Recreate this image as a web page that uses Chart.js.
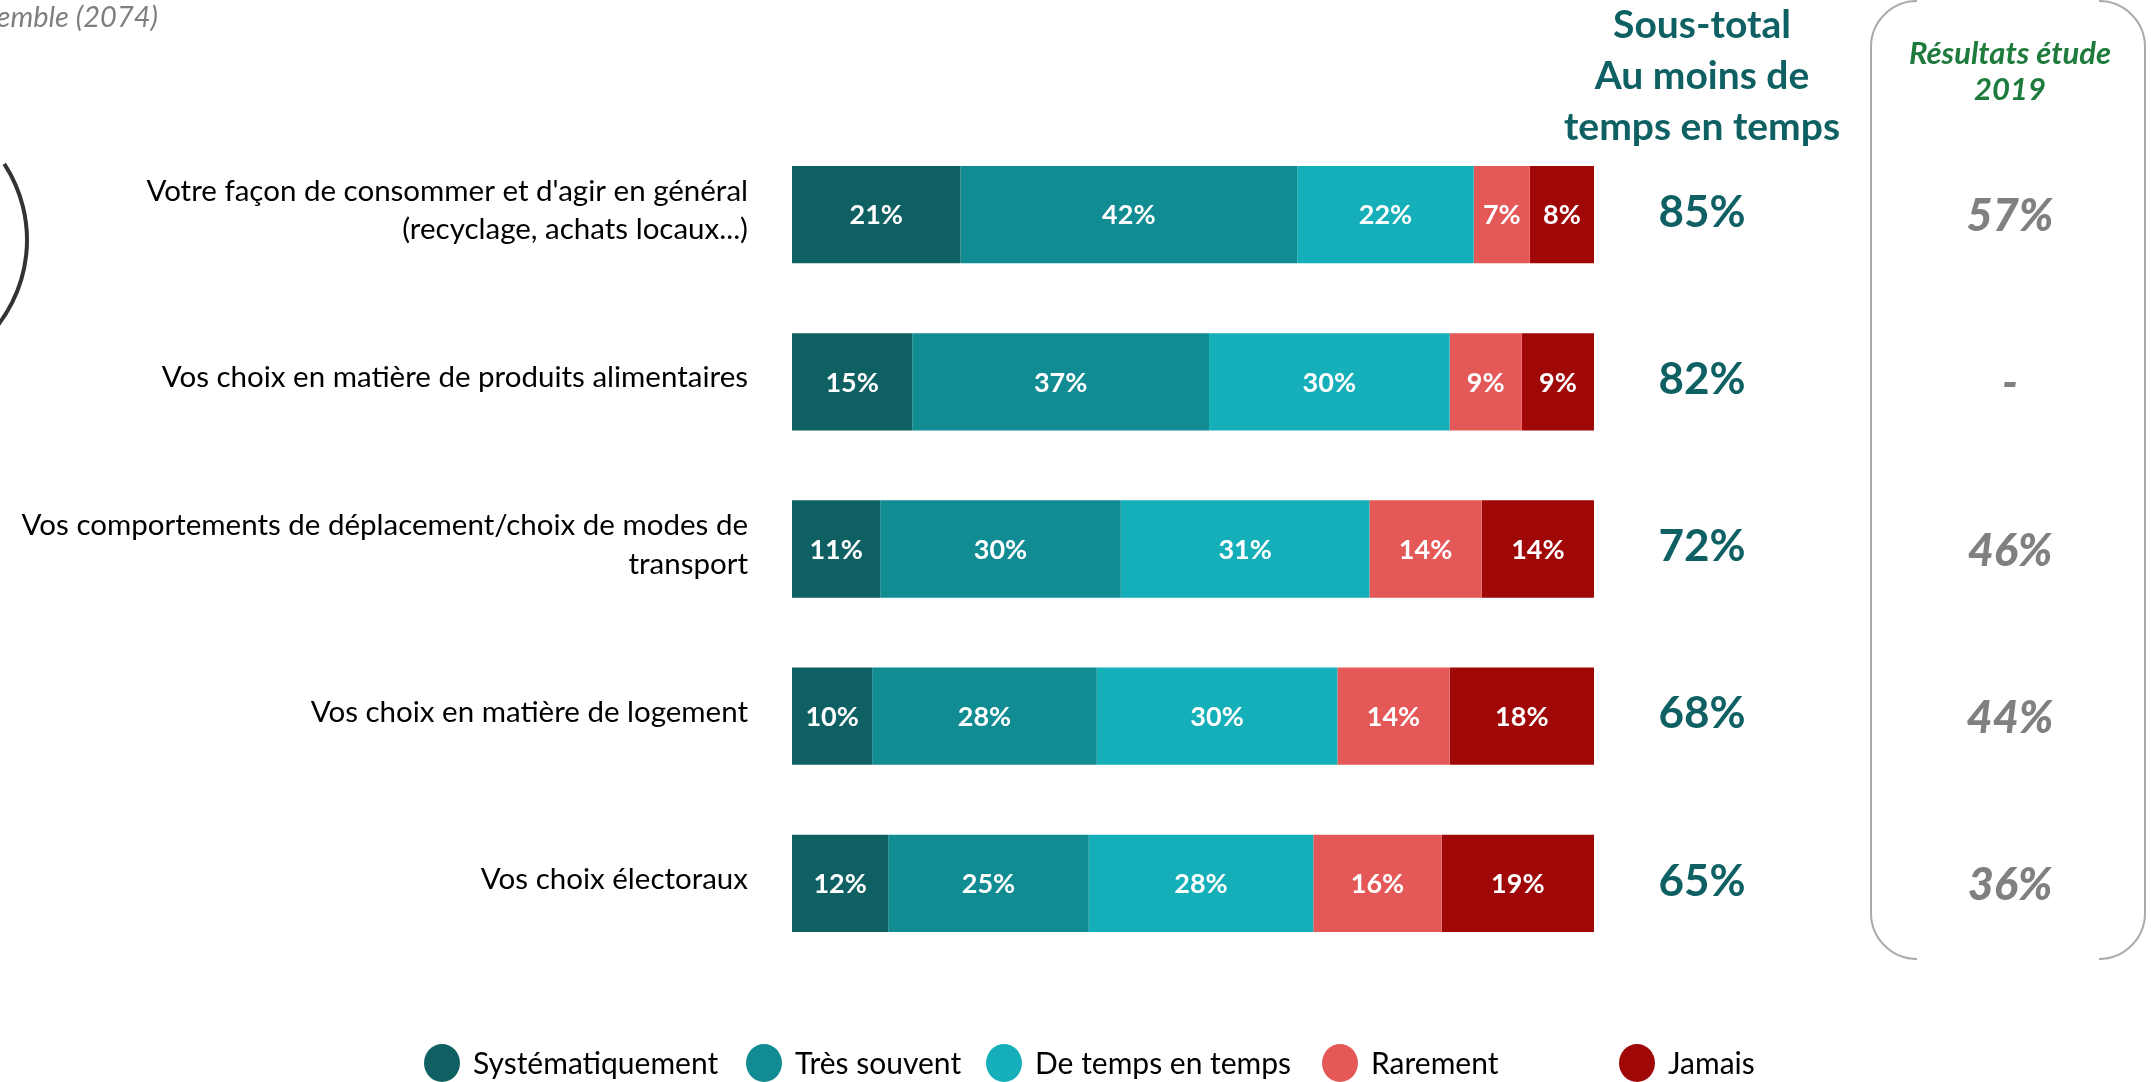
<!DOCTYPE html>
<html>
<head>
<meta charset="utf-8">
<script src="https://cdn.jsdelivr.net/npm/chart.js@4/dist/chart.umd.min.js"></script>
<style>
  html, body { margin: 0; padding: 0; background: #fff; }
  #wrap { width: 2151px; height: 1082px; position: relative; overflow: hidden; }
</style>
</head>
<body>
<div id="wrap"><canvas id="chart" width="2151" height="1082"></canvas></div>
<script>
// categories (one entry per bar, multi-line labels as arrays)
const categories = [
    ["Votre façon de consommer et d'agir en général", "(recyclage, achats locaux...)"],
    "Vos choix en matière de produits alimentaires",
    ["Vos comportements de déplacement/choix de modes de", "transport"],
    "Vos choix en matière de logement",
    "Vos choix électoraux",
];

const seriesNames = ["Systématiquement", "Très souvent", "De temps en temps", "Rarement", "Jamais"];

const systematiquement = [21, 15, 11, 10, 12];
const tresSouvent = [42, 37, 30, 28, 25];
const deTempsEnTemps = [22, 30, 31, 30, 28];
const rarement = [7, 9, 14, 14, 16];
const jamais = [8, 9, 14, 18, 19];

// right-hand columns
const sousTotal = [85, 82, 72, 68, 65];
const resultats2019 = [57, null, 46, 44, 36];

const FONT = 'Lato, "Open Sans", sans-serif';
const TEAL_DARK = '#0e6063';

let colors = ['#0e6063', '#118c93', '#14afb8', '#e55858', '#a00707'];
let seriesData = [systematiquement, tresSouvent, deTempsEnTemps, rarement, jamais];

// labels written inside each bar segment
const segmentLabels = {
    id: 'segmentLabels',
    afterDatasetsDraw(chart) {
        const ctx = chart.ctx;
        ctx.save();
        ctx.font = 'bold 27px ' + FONT;
        ctx.fillStyle = '#fff';
        ctx.textAlign = 'center';
        ctx.textBaseline = 'middle';
        chart.data.datasets.forEach((ds, i) => {
            chart.getDatasetMeta(i).data.forEach((bar, j) => {
                ctx.fillText(ds.data[j] + '%', (bar.x + bar.base) / 2, bar.y + 1);
            });
        });
        ctx.restore();
    }
};

// sub-total column, 2019 column, legend and slide decorations
const extras = {
    id: 'extras',
    afterDraw(chart) {
        const ctx = chart.ctx;
        const yScale = chart.scales.y;
        ctx.save();

        // cut-off base text top left
        ctx.font = 'italic 29px ' + FONT;
        ctx.fillStyle = '#7f7f7f';
        ctx.textAlign = 'right';
        ctx.textBaseline = 'middle';
        ctx.fillText('Ensemble (2074)', 158, 18);

        // decorative arc on the left edge
        ctx.beginPath();
        ctx.strokeStyle = '#333';
        ctx.lineWidth = 4;
        ctx.arc(-112, 240, 139, -0.58, 0.8);
        ctx.stroke();

        // sous-total header + values
        ctx.fillStyle = TEAL_DARK;
        ctx.textAlign = 'center';
        ctx.font = 'bold 39px ' + FONT;
        ['Sous-total', 'Au moins de', 'temps en temps'].forEach((t, i) => {
            ctx.fillText(t, 1702, 25 + i * 51);
        });
        ctx.font = 'bold 44px ' + FONT;
        sousTotal.forEach((v, i) => {
            ctx.fillText(v + '%', 1702, yScale.getPixelForValue(i) - 2);
        });

        // 2019 box (sides and corners only)
        const bx0 = 1871, bx1 = 2145, by0 = 1, by1 = 959, r = 46;
        ctx.strokeStyle = '#aaa';
        ctx.lineWidth = 2;
        ctx.beginPath();
        ctx.moveTo(bx0 + r, by0);
        ctx.arc(bx0 + r, by0 + r, r, -Math.PI / 2, Math.PI, true);
        ctx.lineTo(bx0, by1 - r);
        ctx.arc(bx0 + r, by1 - r, r, Math.PI, Math.PI / 2, true);
        ctx.stroke();
        ctx.beginPath();
        ctx.moveTo(bx1 - r, by0);
        ctx.arc(bx1 - r, by0 + r, r, -Math.PI / 2, 0);
        ctx.lineTo(bx1, by1 - r);
        ctx.arc(bx1 - r, by1 - r, r, 0, Math.PI / 2);
        ctx.stroke();

        ctx.fillStyle = '#1e7b3c';
        ctx.font = 'italic bold 31px ' + FONT;
        ctx.fillText('Résultats étude', 2010, 54);
        ctx.fillText('2019', 2010, 90);
        ctx.fillStyle = '#808080';
        ctx.font = 'italic 900 45px ' + FONT;
        resultats2019.forEach((v, i) => {
            ctx.fillText(v === null ? '-' : v + '%', 2010, yScale.getPixelForValue(i) + 2);
        });

        // legend
        const circleX = [442, 764, 1004, 1340, 1637];
        ctx.font = '30px ' + FONT;
        ctx.textAlign = 'left';
        chart.data.datasets.forEach((ds, i) => {
            ctx.fillStyle = ds.backgroundColor;
            ctx.beginPath();
            ctx.ellipse(circleX[i], 1063, 18, 19, 0, 0, Math.PI * 2);
            ctx.fill();
            ctx.fillStyle = '#000';
            ctx.fillText(ds.label, circleX[i] + 31, 1064);
        });

        ctx.restore();
    }
};

let chartConfig = {
    type: 'bar',
    data: {
        labels: categories,
        datasets: seriesNames.map((name, i) => ({
            label: name,
            data: seriesData[i],
            backgroundColor: colors[i],
            borderWidth: 0,
            categoryPercentage: 1,
            barPercentage: 0.582,
        })),
    },
    options: {
        indexAxis: 'y',
        responsive: false,
        animation: false,
        layout: {
            padding: { top: 131, bottom: 115, left: 0, right: 557 },
        },
        plugins: {
            legend: { display: false },
            tooltip: { enabled: false },
        },
        scales: {
            x: {
                stacked: true,
                min: 0,
                max: 100,
                display: false,
            },
            y: {
                stacked: true,
                grid: { display: false },
                border: { display: false },
                afterFit: function (scale) {
                    scale.width = 792;
                },
                ticks: {
                    color: '#000',
                    padding: 36,
                    labelOffset: -4,
                    font: { family: FONT, size: 29.5, lineHeight: 1.3 },
                },
            },
        },
    },
    plugins: [segmentLabels, extras],
};

new Chart(document.getElementById('chart'), chartConfig);
</script>
</body>
</html>
